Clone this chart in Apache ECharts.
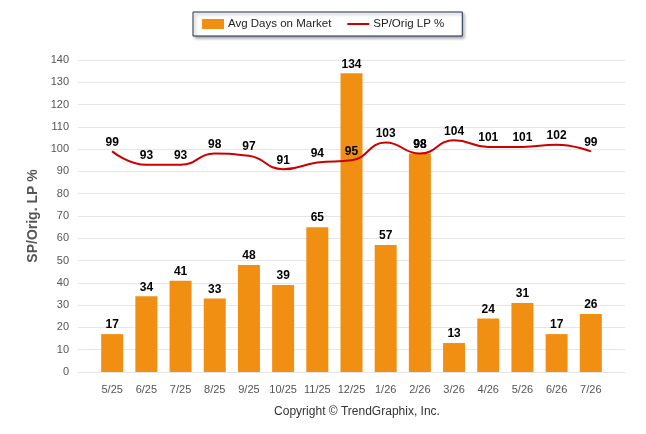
<!DOCTYPE html>
<html>
<head>
<meta charset="utf-8">
<script src="https://cdn.jsdelivr.net/npm/echarts@6/dist/echarts.min.js"></script>
<style>
    html, body { margin: 0; padding: 0; background: #fff; }
    #chart { width: 646px; height: 434px; }
</style>
</head>
<body>
<div id="chart"></div>
<script>
(function () {
    'use strict';

    // months shown on the x axis
    var months = ['5/25', '6/25', '7/25', '8/25', '9/25', '10/25', '11/25', '12/25',
        '1/26', '2/26', '3/26', '4/26', '5/26', '6/26', '7/26'];
    var avgDays = [17, 34, 41, 33, 48, 39, 65, 134, 57, 98, 13, 24, 31, 17, 26];
    var spOrigLp = [99, 93, 93, 98, 97, 91, 94, 95, 103, 98, 104, 101, 101, 102, 99];
    var yTicks = [0, 140, 10];

    // the original axis leaves an empty slot at each end
    var cats = [''].concat(months, ['']);
    var pad = function (arr) { return [null].concat(arr, [null]); };

    var labelStyle = function (dist) {
        return {
            show: true,
            position: 'top',
            color: '#000',
            fontFamily: 'Arial, Liberation Sans',
            fontWeight: 'bold',
            fontSize: 12,
            distance: dist
        };
    };

    var myChart = echarts.init(document.getElementById('chart'), null, { renderer: 'canvas' });

    myChart.setOption({
        animation: false,
        textStyle: { fontFamily: 'Arial, Liberation Sans' },
        title: {
            text: 'Copyright \u00a9 TrendGraphix, Inc.',
            left: 352,
            textAlign: 'center',
            top: 401,
            textStyle: { fontSize: 12, fontWeight: 'normal', color: '#333' }
        },
        legend: {
            orient: 'horizontal',
            top: 12,
            left: 193,
            itemGap: 16,
            itemWidth: 22,
            itemHeight: 10,
            padding: [6, 18, 6, 9],
            borderColor: '#1f2f4f',
            borderWidth: 1,
            backgroundColor: '#fff',
            shadowColor: 'rgba(0,0,0,0.35)',
            shadowBlur: 3,
            shadowOffsetX: 2,
            shadowOffsetY: 2,
            textStyle: { fontSize: 11.5, color: '#222', padding: [0, 0, 0, -1] },
            data: [
                { name: 'Avg Days on Market', icon: 'rect' },
                { name: 'SP/Orig LP %', icon: 'path://M0,4 L22,4 L22,6 L0,6 Z' }
            ]
        },
        grid: { left: 78, right: 21, top: 60, bottom: 62 },
        xAxis: {
            type: 'category',
            data: cats,
            boundaryGap: false,
            axisLine: { lineStyle: { color: '#e6e6e6' } },
            axisTick: { show: false },
            axisLabel: { color: '#555', fontSize: 11, margin: 12, interval: 0 }
        },
        yAxis: {
            type: 'value',
            min: yTicks[0],
            max: yTicks[1],
            interval: yTicks[2],
            name: 'SP/Orig. LP %',
            nameLocation: 'middle',
            nameGap: 31,
            nameTextStyle: { fontSize: 14, fontWeight: 'bold', color: '#555' },
            axisLine: { show: false },
            axisTick: { show: false },
            axisLabel: { color: '#555', fontSize: 11, margin: 9 },
            splitLine: { lineStyle: { color: '#e6e6e6' } }
        },
        series: [{
            name: 'Avg Days on Market',
            type: 'bar',
            data: pad(avgDays),
            barWidth: 22,
            itemStyle: { color: '#f08f12' },
            label: labelStyle(3),
            z: 2
        }, {
            name: 'SP/Orig LP %',
            type: 'line',
            data: pad(spOrigLp),
            smooth: 0.5,
            symbol: 'circle',
            symbolSize: 1,
            showSymbol: true,
            lineStyle: { color: '#cc0000', width: 2 },
            itemStyle: { color: '#cc0000' },
            label: labelStyle(2.5),
            z: 3
        }]
    });
}());
</script>
</body>
</html>
